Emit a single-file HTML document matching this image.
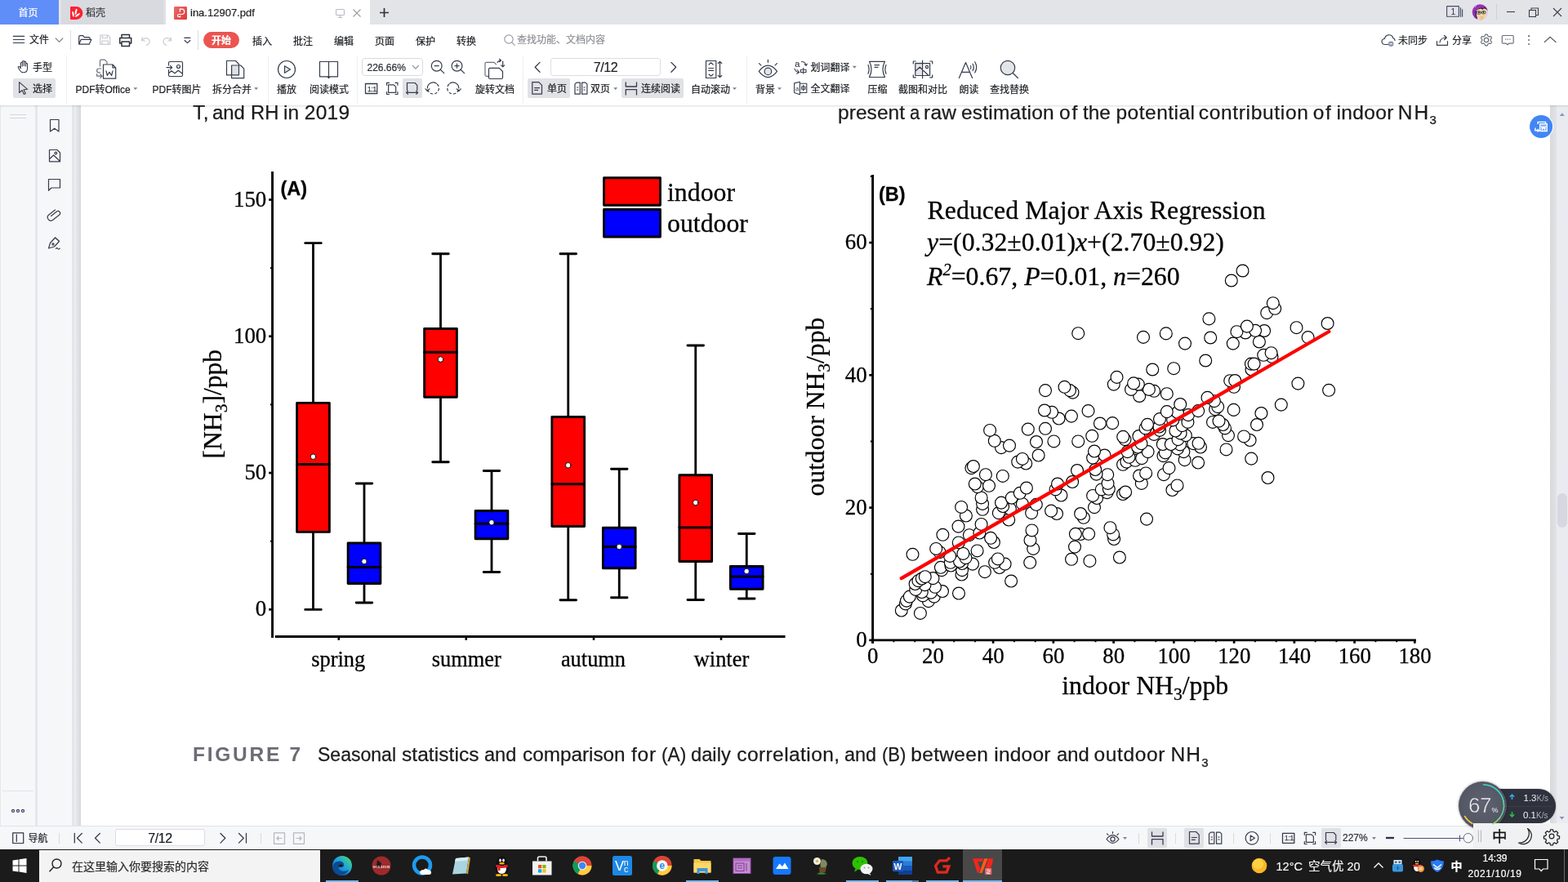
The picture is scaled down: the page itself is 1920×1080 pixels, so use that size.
<!DOCTYPE html>
<html lang="zh-CN">
<head>
<meta charset="utf-8">
<title>ina.12907.pdf</title>
<style>
*{box-sizing:border-box}
html,body{margin:0;padding:0;width:1920px;height:1080px;overflow:hidden;background:#fff}
body{position:relative;font-family:"Liberation Sans","Noto Sans CJK SC",sans-serif;font-size:12px;color:#1a1c21;line-height:1}
.abs{position:absolute}
.t{position:absolute;white-space:nowrap;line-height:16px;height:16px;-webkit-text-stroke:0.2px currentColor}
svg{position:absolute;overflow:visible}
.ic{fill:none;stroke:#363c4c;stroke-width:1.2;stroke-linecap:round;stroke-linejoin:round}
#tabbar{left:0;top:0;width:1920px;height:30px;background:#e3e4e8}
#menubar{left:0;top:30px;width:1920px;height:36px;background:#fff}
#toolbar{left:0;top:66px;width:1920px;height:63px;background:#fff}
#doc{left:0;top:129px;width:1920px;height:882px;background:#fff;overflow:hidden}
#status{left:0;top:1011px;width:1920px;height:29px;background:#f6f7f9;border-top:1px solid #e2e3e8}
#taskbar{left:0;top:1040px;width:1920px;height:40px;background:#1b1b1b}
#chart text{stroke:#000;stroke-width:0.28px}
.sep{position:absolute;width:1px;background:#e4e5e9}
.sel{position:absolute;background:#e0e2e6;border-radius:2px}
.w{position:absolute;white-space:nowrap;font-family:"Liberation Sans",sans-serif;font-size:24.5px;line-height:28px;height:28px;color:#1b1b1d;-webkit-text-stroke:0.25px #1b1b1d}
.lato{font-family:"Liberation Sans",sans-serif;color:#1d1d1f}
</style>
</head>
<body>
<div id="doc" class="abs">
 <div class="abs" style="left:0;top:0;width:43px;height:882px;background:#f6f7f9;border-left:1px solid #e6e7eb"></div>
 <div class="abs" style="left:43px;top:0;width:3px;height:882px;background:#e6e7ec"></div>
 <div class="abs" style="left:46px;top:0;width:42px;height:882px;background:#f6f7f9"></div>
 <div class="abs" style="left:88px;top:0;width:3px;height:882px;background:#e5e6ea"></div>
 <div class="abs" style="left:91px;top:0;width:8px;height:882px;background:linear-gradient(90deg,#eeeff1,#e2e3e6 50%,#d6d8db)"></div>
 <div class="abs" style="left:1898px;top:0;width:8px;height:882px;background:linear-gradient(90deg,#d8d9db,#e2e3e6)"></div>
 <div class="abs" style="left:1906px;top:0;width:14px;height:882px;background:#eaebf0"></div>
 <div class="abs" style="left:1907px;top:475px;width:12px;height:42px;border-radius:6px;background:#d5d8e0"></div>
 <div class="abs" style="left:3px;top:838.500px;width:38px;height:1px;background:#e3e4e8"></div>
 <div class="abs" style="left:12px;top:11px;width:20px;height:1px;background:#d3d5da"></div>
 <div class="abs" style="left:12px;top:14.500px;width:20px;height:1px;background:#d3d5da"></div>
</div>
<svg id="chart" width="1920" height="1080" viewBox="0 0 1920 1080" style="position:absolute;left:0;top:0" font-family="'Liberation Serif',serif" fill="#000">
<g stroke="#000" stroke-width="2.9" fill="none" stroke-linecap="butt">
<path d="M333.55 210V780.9"/>
<path d="M336.8 779.5H961.5"/>
<path d="M329.2 244.55H333" stroke-width="2.7"/>
<path d="M329.2 411.8H333" stroke-width="2.7"/>
<path d="M329.2 579.05H333" stroke-width="2.7"/>
<path d="M329.2 746.3H333" stroke-width="2.7"/>
<path d="M330.9 328.2H333" stroke-width="2"/>
<path d="M330.9 495.4H333" stroke-width="2"/>
<path d="M330.9 662.7H333" stroke-width="2"/>
<path d="M414.8 780V783.8" stroke-width="2.6"/>
<path d="M570.75 780V783.8" stroke-width="2.6"/>
<path d="M727 780V783.8" stroke-width="2.6"/>
<path d="M883 780V783.8" stroke-width="2.6"/>
</g>
<g stroke="#000" stroke-width="2.8" stroke-linecap="round">
<path d="M383.5 297.7V746.4M373.7 297.7H393.3M373.7 746.4H393.3" fill="none"/>
<rect x="363.6" y="493.4" width="39.8" height="158.00" fill="#f00" stroke-linejoin="round"/>
<path d="M363.6 568.5H403.4"/>
<circle cx="383.5" cy="559.2" r="3.25" fill="#fff" stroke-width="0.9"/>
<path d="M446 592V738M436.2 592H455.8M436.2 738H455.8" fill="none"/>
<rect x="426.1" y="665" width="39.8" height="49.50" fill="#00f" stroke-linejoin="round"/>
<path d="M426.1 694.5H465.9"/>
<circle cx="446" cy="687.5" r="3.25" fill="#fff" stroke-width="0.9"/>
<path d="M539.5 310.75V565.75M529.7 310.75H549.3M529.7 565.75H549.3" fill="none"/>
<rect x="519.6" y="402.5" width="39.8" height="83.75" fill="#f00" stroke-linejoin="round"/>
<path d="M519.6 431.25H559.4"/>
<circle cx="539.5" cy="440" r="3.25" fill="#fff" stroke-width="0.9"/>
<path d="M602 576.5V700.5M592.2 576.5H611.8M592.2 700.5H611.8" fill="none"/>
<rect x="582.1" y="625.5" width="39.8" height="34.25" fill="#00f" stroke-linejoin="round"/>
<path d="M582.1 641.25H621.9"/>
<circle cx="602" cy="639.75" r="3.25" fill="#fff" stroke-width="0.9"/>
<path d="M695.75 310.75V734.75M685.95 310.75H705.55M685.95 734.75H705.55" fill="none"/>
<rect x="675.85" y="510.5" width="39.8" height="134.00" fill="#f00" stroke-linejoin="round"/>
<path d="M675.85 592.75H715.65"/>
<circle cx="695.75" cy="569.75" r="3.25" fill="#fff" stroke-width="0.9"/>
<path d="M758.25 574.25V731.75M748.45 574.25H768.05M748.45 731.75H768.05" fill="none"/>
<rect x="738.35" y="646.25" width="39.8" height="49.50" fill="#00f" stroke-linejoin="round"/>
<path d="M738.35 669.5H778.15"/>
<circle cx="758.25" cy="669.5" r="3.25" fill="#fff" stroke-width="0.9"/>
<path d="M851.75 423V734.5M841.95 423H861.55M841.95 734.5H861.55" fill="none"/>
<rect x="831.85" y="581.75" width="39.8" height="105.75" fill="#f00" stroke-linejoin="round"/>
<path d="M831.85 646H871.65"/>
<circle cx="851.75" cy="615.5" r="3.25" fill="#fff" stroke-width="0.9"/>
<path d="M914.25 653.5V733M904.45 653.5H924.05M904.45 733H924.05" fill="none"/>
<rect x="894.35" y="693.5" width="39.8" height="27.75" fill="#00f" stroke-linejoin="round"/>
<path d="M894.35 706H934.15"/>
<circle cx="914.25" cy="699.5" r="3.25" fill="#fff" stroke-width="0.9"/>
<rect x="739.5" y="217.75" width="69" height="33.5" fill="#f00" stroke-linejoin="round"/>
<rect x="739.5" y="256.5" width="69" height="33.5" fill="#00f" stroke-linejoin="round"/>
</g>
<g font-size="26.9px" text-anchor="end">
<text x="326.3" y="252.55">150</text>
<text x="326.3" y="419.8">100</text>
<text x="326.3" y="587.05">50</text>
<text x="326.3" y="754.3">0</text>
</g>
<g font-size="26.4px" text-anchor="middle">
<text x="414.2" y="816.3">spring</text>
<text x="571.2" y="816.3">summer</text>
<text x="726.5" y="816.3">autumn</text>
<text x="883.5" y="816.3">winter</text>
</g>
<text x="817" y="245.5" font-size="31.8px">indoor</text>
<text x="817" y="283.75" font-size="31.8px">outdoor</text>
<text x="343.5" y="238.8" font-family="'Liberation Sans',sans-serif" font-weight="bold" font-size="23.5px">(A)</text>
<text transform="translate(270.5 561.5) rotate(-90)" font-size="31.6px">[NH<tspan font-size="21.5px" dy="7.3">3</tspan><tspan dy="-7.3">]/ppb</tspan></text>
<g stroke="#000" stroke-width="2.9" fill="none">
<path d="M1068.6 214V787.8"/>
<path d="M1068 783.9H1733.9"/>
<path d="M1064.3 297.1H1068" stroke-width="2.7"/>
<path d="M1064.3 459.3H1068" stroke-width="2.7"/>
<path d="M1064.3 621.6H1068" stroke-width="2.7"/>
<path d="M1064.3 783.9H1068" stroke-width="2.7"/>
<path d="M1065.8 215.9H1068" stroke-width="2"/>
<path d="M1065.8 378.2H1068" stroke-width="2"/>
<path d="M1065.8 540.5H1068" stroke-width="2"/>
<path d="M1065.8 702.8H1068" stroke-width="2"/>
<path d="M1068.60 783V787.8" stroke-width="2.7"/>
<path d="M1094.40 783V786.2M1120.20 783V786.2" stroke-width="2"/>
<path d="M1142.35 783V787.8" stroke-width="2.7"/>
<path d="M1168.15 783V786.2M1193.95 783V786.2" stroke-width="2"/>
<path d="M1216.10 783V787.8" stroke-width="2.7"/>
<path d="M1241.90 783V786.2M1267.70 783V786.2" stroke-width="2"/>
<path d="M1289.85 783V787.8" stroke-width="2.7"/>
<path d="M1315.65 783V786.2M1341.45 783V786.2" stroke-width="2"/>
<path d="M1363.60 783V787.8" stroke-width="2.7"/>
<path d="M1389.40 783V786.2M1415.20 783V786.2" stroke-width="2"/>
<path d="M1437.35 783V787.8" stroke-width="2.7"/>
<path d="M1463.15 783V786.2M1488.95 783V786.2" stroke-width="2"/>
<path d="M1511.10 783V787.8" stroke-width="2.7"/>
<path d="M1536.90 783V786.2M1562.70 783V786.2" stroke-width="2"/>
<path d="M1584.85 783V787.8" stroke-width="2.7"/>
<path d="M1610.65 783V786.2M1636.45 783V786.2" stroke-width="2"/>
<path d="M1658.60 783V787.8" stroke-width="2.7"/>
<path d="M1684.40 783V786.2M1710.20 783V786.2" stroke-width="2"/>
<path d="M1732.35 783V787.8" stroke-width="2.7"/>
</g>
<g font-size="26.9px" text-anchor="end">
<text x="1061.6" y="305.40">60</text>
<text x="1061.6" y="467.60">40</text>
<text x="1061.6" y="629.90">20</text>
<text x="1061.6" y="792.20">0</text>
</g>
<g font-size="26.9px" text-anchor="middle">
<text x="1068.80" y="812.1">0</text>
<text x="1142.55" y="812.1">20</text>
<text x="1216.30" y="812.1">40</text>
<text x="1290.05" y="812.1">60</text>
<text x="1363.80" y="812.1">80</text>
<text x="1437.55" y="812.1">100</text>
<text x="1511.30" y="812.1">120</text>
<text x="1585.05" y="812.1">140</text>
<text x="1658.80" y="812.1">160</text>
<text x="1732.55" y="812.1">180</text>
</g>
<text x="1300.3" y="849.6" font-size="31.75px">indoor NH<tspan font-size="21.5px" dy="7.3">3</tspan><tspan dy="-7.3">/ppb</tspan></text>
<text transform="translate(1008.8 607.5) rotate(-90)" font-size="31.6px">outdoor NH<tspan font-size="21.5px" dy="7.3">3</tspan><tspan dy="-7.3">/ppb</tspan></text>
<text x="1076" y="246" font-family="'Liberation Sans',sans-serif" font-weight="bold" font-size="23.5px">(B)</text>
<g font-size="31.8px">
<text x="1135.5" y="268" letter-spacing="0.06">Reduced Major Axis Regression</text>
<text x="1135" y="307"><tspan font-style="italic">y</tspan>=(0.32±0.01)<tspan font-style="italic">x</tspan>+(2.70±0.92)</text>
<text x="1135" y="348.8"><tspan font-style="italic">R</tspan><tspan font-style="italic" font-size="20.5px" dy="-12">2</tspan><tspan dy="12">=0.67, </tspan><tspan font-style="italic">P</tspan>=0.01, <tspan font-style="italic">n</tspan>=260</text>
</g>
<g fill="#fff" stroke="#000" stroke-width="1.15">
<circle cx="1126.9" cy="750.9" r="7.45"/>
<circle cx="1103.8" cy="747.5" r="7.45"/>
<circle cx="1108.8" cy="739.4" r="7.45"/>
<circle cx="1136.9" cy="736.2" r="7.45"/>
<circle cx="1110.0" cy="735.6" r="7.45"/>
<circle cx="1113.8" cy="730.6" r="7.45"/>
<circle cx="1143.8" cy="730.6" r="7.45"/>
<circle cx="1130.0" cy="729.4" r="7.45"/>
<circle cx="1174.0" cy="726.5" r="7.45"/>
<circle cx="1140.0" cy="725.6" r="7.45"/>
<circle cx="1128.8" cy="725.0" r="7.45"/>
<circle cx="1154.0" cy="724.0" r="7.45"/>
<circle cx="1121.2" cy="721.9" r="7.45"/>
<circle cx="1145.0" cy="718.8" r="7.45"/>
<circle cx="1132.5" cy="716.2" r="7.45"/>
<circle cx="1120.6" cy="715.0" r="7.45"/>
<circle cx="1238.1" cy="711.5" r="7.45"/>
<circle cx="1124.4" cy="711.2" r="7.45"/>
<circle cx="1128.8" cy="708.5" r="7.45"/>
<circle cx="1142.5" cy="708.1" r="7.45"/>
<circle cx="1132.8" cy="706.2" r="7.45"/>
<circle cx="1177.5" cy="703.5" r="7.45"/>
<circle cx="1205.9" cy="700.2" r="7.45"/>
<circle cx="1153.1" cy="698.1" r="7.45"/>
<circle cx="1178.1" cy="698.1" r="7.45"/>
<circle cx="1223.8" cy="695.0" r="7.45"/>
<circle cx="1151.9" cy="694.8" r="7.45"/>
<circle cx="1164.4" cy="692.5" r="7.45"/>
<circle cx="1191.0" cy="690.6" r="7.45"/>
<circle cx="1230.6" cy="690.6" r="7.45"/>
<circle cx="1178.1" cy="690.0" r="7.45"/>
<circle cx="1163.8" cy="688.8" r="7.45"/>
<circle cx="1218.1" cy="688.8" r="7.45"/>
<circle cx="1261.2" cy="688.8" r="7.45"/>
<circle cx="1175.0" cy="687.5" r="7.45"/>
<circle cx="1334.4" cy="686.9" r="7.45"/>
<circle cx="1312.0" cy="684.8" r="7.45"/>
<circle cx="1221.9" cy="684.4" r="7.45"/>
<circle cx="1182.5" cy="683.1" r="7.45"/>
<circle cx="1370.9" cy="682.5" r="7.45"/>
<circle cx="1163.1" cy="680.9" r="7.45"/>
<circle cx="1117.5" cy="678.8" r="7.45"/>
<circle cx="1179.4" cy="677.9" r="7.45"/>
<circle cx="1150.6" cy="676.2" r="7.45"/>
<circle cx="1196.6" cy="674.4" r="7.45"/>
<circle cx="1146.2" cy="671.9" r="7.45"/>
<circle cx="1265.2" cy="671.9" r="7.45"/>
<circle cx="1316.0" cy="669.6" r="7.45"/>
<circle cx="1173.8" cy="664.4" r="7.45"/>
<circle cx="1216.9" cy="664.0" r="7.45"/>
<circle cx="1261.5" cy="661.5" r="7.45"/>
<circle cx="1364.1" cy="660.0" r="7.45"/>
<circle cx="1213.1" cy="658.8" r="7.45"/>
<circle cx="1186.9" cy="655.2" r="7.45"/>
<circle cx="1154.4" cy="654.8" r="7.45"/>
<circle cx="1363.1" cy="654.4" r="7.45"/>
<circle cx="1323.1" cy="654.0" r="7.45"/>
<circle cx="1316.9" cy="653.8" r="7.45"/>
<circle cx="1333.1" cy="653.8" r="7.45"/>
<circle cx="1199.4" cy="652.5" r="7.45"/>
<circle cx="1263.5" cy="649.4" r="7.45"/>
<circle cx="1359.4" cy="646.2" r="7.45"/>
<circle cx="1173.5" cy="644.6" r="7.45"/>
<circle cx="1201.6" cy="641.9" r="7.45"/>
<circle cx="1235.2" cy="636.5" r="7.45"/>
<circle cx="1404.0" cy="635.6" r="7.45"/>
<circle cx="1326.9" cy="633.8" r="7.45"/>
<circle cx="1182.9" cy="631.5" r="7.45"/>
<circle cx="1294.0" cy="629.0" r="7.45"/>
<circle cx="1323.1" cy="629.0" r="7.45"/>
<circle cx="1222.8" cy="628.1" r="7.45"/>
<circle cx="1263.1" cy="628.1" r="7.45"/>
<circle cx="1287.1" cy="625.6" r="7.45"/>
<circle cx="1203.1" cy="623.8" r="7.45"/>
<circle cx="1236.9" cy="623.1" r="7.45"/>
<circle cx="1340.0" cy="621.2" r="7.45"/>
<circle cx="1177.1" cy="620.9" r="7.45"/>
<circle cx="1228.1" cy="620.0" r="7.45"/>
<circle cx="1268.8" cy="617.8" r="7.45"/>
<circle cx="1203.1" cy="616.9" r="7.45"/>
<circle cx="1251.9" cy="616.9" r="7.45"/>
<circle cx="1226.0" cy="615.6" r="7.45"/>
<circle cx="1343.1" cy="610.0" r="7.45"/>
<circle cx="1238.8" cy="609.6" r="7.45"/>
<circle cx="1201.6" cy="609.4" r="7.45"/>
<circle cx="1338.1" cy="606.9" r="7.45"/>
<circle cx="1299.4" cy="606.5" r="7.45"/>
<circle cx="1375.0" cy="605.0" r="7.45"/>
<circle cx="1248.8" cy="603.8" r="7.45"/>
<circle cx="1355.6" cy="603.1" r="7.45"/>
<circle cx="1378.1" cy="602.5" r="7.45"/>
<circle cx="1435.4" cy="600.0" r="7.45"/>
<circle cx="1292.5" cy="599.4" r="7.45"/>
<circle cx="1348.8" cy="599.4" r="7.45"/>
<circle cx="1357.8" cy="598.8" r="7.45"/>
<circle cx="1256.9" cy="597.5" r="7.45"/>
<circle cx="1196.9" cy="596.2" r="7.45"/>
<circle cx="1211.0" cy="594.8" r="7.45"/>
<circle cx="1441.5" cy="594.4" r="7.45"/>
<circle cx="1193.8" cy="592.5" r="7.45"/>
<circle cx="1295.0" cy="592.5" r="7.45"/>
<circle cx="1356.5" cy="591.9" r="7.45"/>
<circle cx="1397.8" cy="591.9" r="7.45"/>
<circle cx="1313.1" cy="590.0" r="7.45"/>
<circle cx="1552.5" cy="585.0" r="7.45"/>
<circle cx="1227.8" cy="582.9" r="7.45"/>
<circle cx="1395.0" cy="582.5" r="7.45"/>
<circle cx="1206.9" cy="581.2" r="7.45"/>
<circle cx="1356.2" cy="581.2" r="7.45"/>
<circle cx="1425.0" cy="581.2" r="7.45"/>
<circle cx="1342.5" cy="580.6" r="7.45"/>
<circle cx="1403.1" cy="579.4" r="7.45"/>
<circle cx="1319.0" cy="576.0" r="7.45"/>
<circle cx="1341.2" cy="575.0" r="7.45"/>
<circle cx="1189.4" cy="573.1" r="7.45"/>
<circle cx="1431.5" cy="573.1" r="7.45"/>
<circle cx="1191.9" cy="571.0" r="7.45"/>
<circle cx="1375.0" cy="568.8" r="7.45"/>
<circle cx="1256.2" cy="567.5" r="7.45"/>
<circle cx="1467.1" cy="566.5" r="7.45"/>
<circle cx="1246.2" cy="565.6" r="7.45"/>
<circle cx="1379.4" cy="565.6" r="7.45"/>
<circle cx="1390.0" cy="563.8" r="7.45"/>
<circle cx="1450.6" cy="563.1" r="7.45"/>
<circle cx="1251.9" cy="561.9" r="7.45"/>
<circle cx="1532.2" cy="561.6" r="7.45"/>
<circle cx="1398.1" cy="561.2" r="7.45"/>
<circle cx="1338.1" cy="560.6" r="7.45"/>
<circle cx="1382.5" cy="559.8" r="7.45"/>
<circle cx="1424.4" cy="558.1" r="7.45"/>
<circle cx="1271.6" cy="557.5" r="7.45"/>
<circle cx="1352.5" cy="557.5" r="7.45"/>
<circle cx="1426.9" cy="554.4" r="7.45"/>
<circle cx="1380.6" cy="553.1" r="7.45"/>
<circle cx="1405.6" cy="553.1" r="7.45"/>
<circle cx="1449.4" cy="553.1" r="7.45"/>
<circle cx="1340.0" cy="552.5" r="7.45"/>
<circle cx="1501.5" cy="550.4" r="7.45"/>
<circle cx="1441.9" cy="549.4" r="7.45"/>
<circle cx="1226.0" cy="548.1" r="7.45"/>
<circle cx="1393.1" cy="547.5" r="7.45"/>
<circle cx="1470.0" cy="547.5" r="7.45"/>
<circle cx="1236.0" cy="545.6" r="7.45"/>
<circle cx="1445.0" cy="544.4" r="7.45"/>
<circle cx="1423.8" cy="544.0" r="7.45"/>
<circle cx="1433.8" cy="544.0" r="7.45"/>
<circle cx="1397.5" cy="543.1" r="7.45"/>
<circle cx="1461.2" cy="543.1" r="7.45"/>
<circle cx="1467.5" cy="542.8" r="7.45"/>
<circle cx="1269.0" cy="541.0" r="7.45"/>
<circle cx="1290.4" cy="540.4" r="7.45"/>
<circle cx="1320.2" cy="540.4" r="7.45"/>
<circle cx="1217.8" cy="539.8" r="7.45"/>
<circle cx="1530.6" cy="539.0" r="7.45"/>
<circle cx="1377.5" cy="538.1" r="7.45"/>
<circle cx="1442.5" cy="538.1" r="7.45"/>
<circle cx="1375.2" cy="534.8" r="7.45"/>
<circle cx="1523.1" cy="534.4" r="7.45"/>
<circle cx="1394.4" cy="534.0" r="7.45"/>
<circle cx="1337.2" cy="533.8" r="7.45"/>
<circle cx="1451.9" cy="533.1" r="7.45"/>
<circle cx="1504.0" cy="533.1" r="7.45"/>
<circle cx="1413.1" cy="531.9" r="7.45"/>
<circle cx="1445.6" cy="530.6" r="7.45"/>
<circle cx="1439.4" cy="527.5" r="7.45"/>
<circle cx="1212.1" cy="526.9" r="7.45"/>
<circle cx="1420.0" cy="526.9" r="7.45"/>
<circle cx="1258.8" cy="525.6" r="7.45"/>
<circle cx="1280.0" cy="524.8" r="7.45"/>
<circle cx="1402.5" cy="524.4" r="7.45"/>
<circle cx="1500.0" cy="524.4" r="7.45"/>
<circle cx="1419.4" cy="522.5" r="7.45"/>
<circle cx="1447.5" cy="521.2" r="7.45"/>
<circle cx="1497.5" cy="520.0" r="7.45"/>
<circle cx="1539.0" cy="520.0" r="7.45"/>
<circle cx="1405.0" cy="519.8" r="7.45"/>
<circle cx="1346.9" cy="518.5" r="7.45"/>
<circle cx="1362.2" cy="518.1" r="7.45"/>
<circle cx="1454.4" cy="516.9" r="7.45"/>
<circle cx="1485.0" cy="516.9" r="7.45"/>
<circle cx="1492.5" cy="515.6" r="7.45"/>
<circle cx="1436.2" cy="514.4" r="7.45"/>
<circle cx="1420.0" cy="513.1" r="7.45"/>
<circle cx="1296.5" cy="512.5" r="7.45"/>
<circle cx="1311.9" cy="509.6" r="7.45"/>
<circle cx="1455.0" cy="508.1" r="7.45"/>
<circle cx="1544.4" cy="506.0" r="7.45"/>
<circle cx="1441.9" cy="505.0" r="7.45"/>
<circle cx="1288.1" cy="504.8" r="7.45"/>
<circle cx="1428.8" cy="504.1" r="7.45"/>
<circle cx="1332.5" cy="503.1" r="7.45"/>
<circle cx="1467.2" cy="503.1" r="7.45"/>
<circle cx="1279.0" cy="502.5" r="7.45"/>
<circle cx="1510.6" cy="501.9" r="7.45"/>
<circle cx="1488.1" cy="501.2" r="7.45"/>
<circle cx="1491.2" cy="498.1" r="7.45"/>
<circle cx="1568.8" cy="495.6" r="7.45"/>
<circle cx="1445.2" cy="495.0" r="7.45"/>
<circle cx="1486.9" cy="491.2" r="7.45"/>
<circle cx="1478.5" cy="486.9" r="7.45"/>
<circle cx="1395.2" cy="485.0" r="7.45"/>
<circle cx="1428.8" cy="482.2" r="7.45"/>
<circle cx="1313.5" cy="480.6" r="7.45"/>
<circle cx="1413.1" cy="478.8" r="7.45"/>
<circle cx="1280.0" cy="478.1" r="7.45"/>
<circle cx="1310.0" cy="478.1" r="7.45"/>
<circle cx="1627.1" cy="477.8" r="7.45"/>
<circle cx="1385.0" cy="476.9" r="7.45"/>
<circle cx="1406.9" cy="476.9" r="7.45"/>
<circle cx="1303.5" cy="473.8" r="7.45"/>
<circle cx="1511.0" cy="473.8" r="7.45"/>
<circle cx="1363.8" cy="470.6" r="7.45"/>
<circle cx="1393.8" cy="470.6" r="7.45"/>
<circle cx="1589.4" cy="469.6" r="7.45"/>
<circle cx="1388.1" cy="469.4" r="7.45"/>
<circle cx="1506.2" cy="466.2" r="7.45"/>
<circle cx="1512.2" cy="466.0" r="7.45"/>
<circle cx="1367.5" cy="461.9" r="7.45"/>
<circle cx="1411.2" cy="452.5" r="7.45"/>
<circle cx="1532.5" cy="452.5" r="7.45"/>
<circle cx="1437.2" cy="451.2" r="7.45"/>
<circle cx="1531.9" cy="445.6" r="7.45"/>
<circle cx="1535.6" cy="445.6" r="7.45"/>
<circle cx="1476.2" cy="441.5" r="7.45"/>
<circle cx="1557.5" cy="436.9" r="7.45"/>
<circle cx="1547.2" cy="434.8" r="7.45"/>
<circle cx="1556.6" cy="432.2" r="7.45"/>
<circle cx="1451.0" cy="420.6" r="7.45"/>
<circle cx="1509.8" cy="420.6" r="7.45"/>
<circle cx="1541.9" cy="418.5" r="7.45"/>
<circle cx="1482.2" cy="413.5" r="7.45"/>
<circle cx="1601.6" cy="413.1" r="7.45"/>
<circle cx="1400.0" cy="412.9" r="7.45"/>
<circle cx="1427.8" cy="408.4" r="7.45"/>
<circle cx="1320.2" cy="408.2" r="7.45"/>
<circle cx="1525.0" cy="407.5" r="7.45"/>
<circle cx="1514.4" cy="406.2" r="7.45"/>
<circle cx="1548.1" cy="405.0" r="7.45"/>
<circle cx="1537.1" cy="404.8" r="7.45"/>
<circle cx="1587.5" cy="401.2" r="7.45"/>
<circle cx="1526.9" cy="399.6" r="7.45"/>
<circle cx="1625.6" cy="396.0" r="7.45"/>
<circle cx="1480.4" cy="390.4" r="7.45"/>
<circle cx="1551.2" cy="383.1" r="7.45"/>
<circle cx="1561.2" cy="377.8" r="7.45"/>
<circle cx="1558.8" cy="371.2" r="7.45"/>
<circle cx="1507.8" cy="343.5" r="7.45"/>
<circle cx="1521.5" cy="331.5" r="7.45"/>
</g>
<path d="M1103.8 708.1L1627.3 406" stroke="#f00" stroke-width="4.3" stroke-linecap="round" fill="none"/>
</svg>
<div id="doctext">
<span class="w" style="left:236.25px;top:123.50px;letter-spacing:0.250px">T,</span>
<span class="w" style="left:260.28px;top:123.50px;transform:scaleX(0.9745);transform-origin:0 0">and</span>
<span class="w" style="left:306.81px;top:123.50px;transform:scaleX(0.9702);transform-origin:0 0">RH</span>
<span class="w" style="left:347.00px;top:123.50px;letter-spacing:0.057px">in</span>
<span class="w" style="left:372.75px;top:123.50px;letter-spacing:0.291px">2019</span>
<span class="w" style="left:1026.00px;top:123.50px;letter-spacing:0.056px">present</span>
<span class="w" style="left:1114.10px;top:123.50px;transform:scaleX(0.9000);transform-origin:0 0">a</span>
<span class="w" style="left:1131.00px;top:123.50px;letter-spacing:0.233px">raw</span>
<span class="w" style="left:1177.00px;top:123.50px;letter-spacing:0.218px">estimation</span>
<span class="w" style="left:1297.00px;top:123.50px;letter-spacing:1.874px">of</span>
<span class="w" style="left:1326.25px;top:123.50px;transform:scaleX(0.9945);transform-origin:0 0">the</span>
<span class="w" style="left:1366.50px;top:123.50px;letter-spacing:0.489px">potential</span>
<span class="w" style="left:1467.75px;top:123.50px;letter-spacing:0.678px">contribution</span>
<span class="w" style="left:1607.75px;top:123.50px;letter-spacing:1.624px">of</span>
<span class="w" style="left:1636.50px;top:123.50px;letter-spacing:0.361px">indoor</span>
<span class="w" style="left:1711.75px;top:123.50px;letter-spacing:2.057px">NH</span>
<span class="w" style="left:389.06px;top:910.00px;transform:scaleX(0.9401);transform-origin:0 0">Seasonal</span>
<span class="w" style="left:492.00px;top:910.00px;letter-spacing:0.063px">statistics</span>
<span class="w" style="left:593.29px;top:910.00px;transform:scaleX(0.9617);transform-origin:0 0">and</span>
<span class="w" style="left:639.51px;top:910.00px;transform:scaleX(0.9919);transform-origin:0 0">comparison</span>
<span class="w" style="left:773.00px;top:910.00px;letter-spacing:0.784px">for</span>
<span class="w" style="left:810.32px;top:910.00px;transform:scaleX(0.9262);transform-origin:0 0">(A)</span>
<span class="w" style="left:846.03px;top:910.00px;transform:scaleX(0.9673);transform-origin:0 0">daily</span>
<span class="w" style="left:902.25px;top:910.00px;letter-spacing:0.419px">correlation,</span>
<span class="w" style="left:1033.54px;top:910.00px;transform:scaleX(0.9554);transform-origin:0 0">and</span>
<span class="w" style="left:1079.85px;top:910.00px;transform:scaleX(0.9016);transform-origin:0 0">(B)</span>
<span class="w" style="left:1115.25px;top:910.00px;letter-spacing:0.333px">between</span>
<span class="w" style="left:1217.25px;top:910.00px;letter-spacing:0.211px">indoor</span>
<span class="w" style="left:1293.53px;top:910.00px;transform:scaleX(0.9681);transform-origin:0 0">and</span>
<span class="w" style="left:1339.50px;top:910.00px;letter-spacing:0.636px">outdoor</span>
<span class="w" style="left:1433.50px;top:910.00px;letter-spacing:1.057px">NH</span>
<span class="w" style="left:236.00px;top:910.00px;letter-spacing:2.734px;font-weight:bold;color:#6c6c74;-webkit-text-stroke:0">FIGURE 7</span>
<span class="w" style="left:1750.50px;top:138.20px;font-size:15px;line-height:18px;height:18px">3</span>
<span class="w" style="left:1471.25px;top:924.70px;font-size:15px;line-height:18px;height:18px">3</span>
</div>

<svg id="docicons" width="1920" height="900" viewBox="0 129 1920 900" style="left:0;top:129px">
<g class="ic" stroke-width="1.150">
<path d="M61.500 146.500h10.500v14.500l-5.250-3.800l-5.250 3.800z"/>
<path d="M60.500 183.500h9.500l3.500 3.500v10.800h-13zM60.700 194.500l5-4.500l7.500 7.200"/><circle cx="68.300" cy="187.500" r="1.300"/>
<path d="M59.500 219.500h14v10.500h-10.500l-3.500 3.300z"/>
<path d="M62.500 264.500l7-5.500a2.600 2.600 0 0 1 3.300 4l-8.300 6.500a4 4 0 0 1-5-6.200l8-6.300"/>
<path d="M59.500 304l2-6.500l6-6.500l5 4.500l-6 6.500zM65.500 293.300l2.200-2.300l4.800 4.300l-2.200 2.500M68.500 304.500q1.200-1.700 2.300 0q1.200 1.500 2.400-0.300"/><circle cx="65" cy="299" r="1.100"/>
</g>
<circle cx="1887.100" cy="155" r="15" fill="#fff"/>
<circle cx="1887.100" cy="155" r="14" fill="#4285f4"/>
<g fill="none" stroke="#fff" stroke-width="1.400"><path d="M1883.200 152v-2.600h9.300v1.800"/><path d="M1885.700 151.800h8.500v8.700h-8.500z" fill="#fff" fill-opacity="0.250"/><path d="M1887.600 154.300l1 3.800l1.400-2.800l1.400 2.800l1-3.800"/><path d="M1879.900 156.500v3.200h4.200M1882.600 157.900l1.900 1.800l-1.900 1.800"/></g>
<path d="M1909.800 141.900h6l-3-3.600z" fill="#8a92b5"/>
</svg>
<div id="tabbar" class="abs"></div>
<div id="menubar" class="abs"></div>
<div id="toolbar" class="abs"></div>
<div class="abs" style="left:0;top:129px;width:1920px;height:3px;background:linear-gradient(rgba(0,0,0,.13),rgba(0,0,0,.04) 50%,rgba(0,0,0,0))"></div>
<!-- tab bar -->
<div class="abs" style="left:0;top:0;width:72px;height:30px;background:#608ef9"></div>
<div class="t" style="left:22.5px;top:8.2px;color:#fff">首页</div>
<div class="abs" style="left:75px;top:0;width:125px;height:30px;background:#d9dadf"></div>
<div class="abs" style="left:200px;top:0;width:3px;height:30px;background:#dfe0e4"></div>
<div class="t" style="left:105px;top:8.2px;color:#33363d">稻壳</div>
<div class="abs" style="left:203px;top:0;width:250px;height:30px;background:#fff"></div>
<div class="t" style="left:233px;top:7.8px;font-size:13px;color:#1c1e22">ina.12907.pdf</div>
<!-- menu row text -->
<div class="t" style="left:36px;top:41.1px">文件</div>
<div class="abs" style="left:249px;top:39px;width:44px;height:20px;border-radius:10px;background:#eb5451"></div>
<div class="t" style="left:259px;top:41.7px;color:#fff;font-weight:bold">开始</div>
<div class="t" style="left:309px;top:42.500px">插入</div>
<div class="t" style="left:359px;top:42.500px">批注</div>
<div class="t" style="left:409px;top:42.500px">编辑</div>
<div class="t" style="left:459px;top:42.500px">页面</div>
<div class="t" style="left:509px;top:42.500px">保护</div>
<div class="t" style="left:559px;top:42.500px">转换</div>
<div class="t" style="left:633px;top:40.5px;color:#8e9096">查找功能、文档内容</div>
<div class="t" style="left:1712px;top:42.100px">未同步</div>
<div class="t" style="left:1778px;top:42.100px">分享</div>
<div class="sep" style="left:86px;top:37px;height:24px;background:#dcdde1"></div>
<div class="sep" style="left:242px;top:37px;height:24px;background:#dcdde1"></div>
<!-- toolbar -->
<div class="sel" style="left:16px;top:96px;width:52px;height:24px"></div>
<div class="sel" style="left:493px;top:96px;width:24px;height:24px"></div>
<div class="sel" style="left:646px;top:96px;width:52px;height:24px"></div>
<div class="sel" style="left:761px;top:96px;width:76px;height:24px"></div>
<div class="sep" style="left:81px;top:68px;height:59px;background:#eeeff1"></div>
<div class="sep" style="left:328px;top:68px;height:59px;background:#eeeff1"></div>
<div class="sep" style="left:437px;top:68px;height:59px;background:#eeeff1"></div>
<div class="sep" style="left:640px;top:68px;height:59px;background:#eeeff1"></div>
<div class="sep" style="left:914px;top:68px;height:59px;background:#eeeff1"></div>
<div class="t" style="left:40px;top:75px">手型</div>
<div class="t" style="left:40px;top:100.8px">选择</div>
<div class="t" style="left:92.5px;top:102.200px">PDF转Office</div>
<div class="t" style="left:186.5px;top:102.200px">PDF转图片</div>
<div class="t" style="left:260px;top:102.200px">拆分合并</div>
<div class="t" style="left:339px;top:102.200px">播放</div>
<div class="t" style="left:379px;top:102.200px">阅读模式</div>
<div class="abs" style="left:443px;top:71px;width:75px;height:22px;border:1px solid #d9dade;border-radius:4px;background:#fff"></div>
<div class="t" style="left:449.5px;top:74.5px;color:#2a2d34">226.66%</div>
<div class="t" style="left:582px;top:102.200px">旋转文档</div>
<div class="abs" style="left:674px;top:71px;width:135px;height:22px;border:1px solid #dcdde1;border-radius:3px;background:#fff"></div>
<div class="t" style="left:674px;top:74.500px;width:135px;text-align:center;font-size:16px;letter-spacing:-0.400px">7/12</div>
<div class="t" style="left:670px;top:101.200px">单页</div>
<div class="t" style="left:723px;top:101.200px">双页</div>
<div class="t" style="left:785px;top:101.200px">连续阅读</div>
<div class="t" style="left:846px;top:102.200px">自动滚动</div>
<div class="t" style="left:925px;top:102.200px">背景</div>
<div class="t" style="left:992.500px;top:75px">划词翻译</div>
<div class="t" style="left:992.500px;top:101.200px">全文翻译</div>
<div class="t" style="left:1062.5px;top:102.200px">压缩</div>
<div class="t" style="left:1100px;top:102.200px">截图和对比</div>
<div class="t" style="left:1174.5px;top:102.200px">朗读</div>
<div class="t" style="left:1212px;top:102.200px">查找替换</div>
<svg id="topicons" width="1920" height="130" viewBox="0 0 1920 130" style="left:0;top:0">
<!-- tab icons -->
<defs><linearGradient id="pdfg" x1="0" y1="0" x2="1" y2="1"><stop offset="0" stop-color="#ea6c6c"/><stop offset="1" stop-color="#e03a36"/></linearGradient></defs>
<path d="M86 9.300a1.200 1.200 0 0 1 1.200-1.200h6.300a7.900 7.900 0 0 1 0 15.800h-6.300a1.200 1.200 0 0 1-1.200-1.200z" fill="#fb2230"/>
<g fill="#fff"><ellipse cx="89.500" cy="17.300" rx="1" ry="3.500" transform="rotate(-12 89.500 17.300)"/><ellipse cx="93" cy="14.300" rx="1.150" ry="3.700" transform="rotate(12 93 14.300)"/><ellipse cx="95" cy="18.300" rx="1.050" ry="3.500" transform="rotate(52 95 18.300)"/></g>
<rect x="213" y="8" width="16" height="16" rx="1.200" fill="url(#pdfg)"/>
<path d="M220.400 14.700V11.100h2.200a3.200 3.200 0 0 1 0 6.400h-3.500a1.600 1.600 0 0 0 0 3.200h1.500v-1.700" stroke="#fff" stroke-width="1.200" fill="none"/>
<g stroke="#b9bcc4" stroke-width="1.100" fill="none"><rect x="411.500" y="11.500" width="10" height="7" rx="1"/><path d="M416.500 18.500v3M414 21.500h5"/></g>
<path d="M432.500 11.500l9 9M441.500 11.500l-9 9" stroke="#9a9da6" stroke-width="1.100" fill="none"/>
<path d="M465 15.500h11M470.500 10v11" stroke="#2f333c" stroke-width="1.700" fill="none"/>
<g stroke="#464f6b" stroke-width="1.150" fill="none"><rect x="1771.600" y="7.650" width="14.800" height="12.600" rx="0.300"/><path d="M1788.500 9.200v11.600M1790.600 11.200v9.600"/></g>
<text x="1776.400" y="18.100" font-size="10.500" fill="#2d3350" font-family="'Liberation Sans',sans-serif">1</text>
<clipPath id="avc"><circle cx="1812.300" cy="14.800" r="9.600"/></clipPath>
<g clip-path="url(#avc)">
<rect x="1802" y="4" width="21" height="22" fill="#d3ccf0"/>
<path d="M1807 13q1-5 7-5q6 0 6.500 6l-0.500 6q-1.500 4.500-5.500 5.500q-4.500-0.500-6.500-5z" fill="#f3d2a4"/>
<path d="M1813 22q2 1 4.500-0.500l-1 3q-2 1-4.500 0.500z" fill="#e8bf90"/>
<path d="M1802 22v-12q2-6 10-6q6 0 9 5l1 5q-2-4-5-5l-1.500 1.500l-2-1.500q-3 0.500-5 3.500l-1.500 4.500l1 4.500l1.500 3q-4 0-7.500-2z" fill="#9530b8"/>
<path d="M1805 8q3-3.500 7-3.500q-4 1.500-5.500 5z" fill="#d070ea"/>
<path d="M1808.500 12.500q2-3 5.500-3.500l1.500 1.300l2-1.500q2.500 1 4 4q-2-2.500-4.500-2.500l-1.500 1.500l-2-1.200q-3 0.500-5 1.900z" fill="#24102c"/>
<path d="M1806.500 13.500l1 6.500l1 2.500" stroke="#3a1a48" stroke-width="1.300" fill="none"/>
<rect x="1808.300" y="13.900" width="4.600" height="3.300" rx="1" fill="#efe9dc" stroke="#3a3a3a" stroke-width="0.900"/>
<rect x="1814.600" y="13.600" width="4.300" height="3.200" rx="1" fill="#efe9dc" stroke="#3a3a3a" stroke-width="0.900"/>
<path d="M1812.900 15.200h1.700M1808.300 15l-2-0.500" stroke="#3a3a3a" stroke-width="0.900"/>
<circle cx="1810.800" cy="15.300" r="1" fill="#20141a"/><circle cx="1816.500" cy="15" r="0.900" fill="#20141a"/>
<path d="M1813.500 20.800q1 0.600 2 0" stroke="#c9786a" stroke-width="0.900" fill="none"/>
</g>
<path d="M1832.500 5v19" stroke="#cfd0d5" stroke-width="1"/>
<path d="M1845 14.500h10" stroke="#3b404c" stroke-width="1.100"/>
<g stroke="#3b404c" stroke-width="1.100" fill="none"><rect x="1872.500" y="12.500" width="8" height="8"/><path d="M1875 12.500v-2.500h8.500v8.500h-3"/></g>
<path d="M1902 10l10 10M1912 10l-10 10" stroke="#3b404c" stroke-width="1.100" fill="none"/>
</svg>
<svg id="tbicons" width="1920" height="130" viewBox="0 0 1920 130" style="left:0;top:0">
<g class="ic">
<!-- menu row -->
<path d="M16.300 44.400h13.400M16.300 48.500h13.400M16.300 52.500h13.400" stroke-width="1.100"/>
<path d="M68.200 47l4.300 4.400l4.300-4.400" stroke="#80848e"/>
<path d="M96.700 53.800V45a1.300 1.300 0 0 1 1.300-1.300h3.600l1.600 1.900h5.600a1.300 1.300 0 0 1 1.300 1.300v1.400M96.700 54.200l2.600-5.900h12.600l-2.700 5.900z"/>
<path d="M122.800 43h9.200l2.700 2.700v8.600h-11.900zM125.300 43v3.500h6v-3.500M125 54.300v-4.300h7.500v4.300" stroke="#c8cacf"/>
<path d="M149 46.500v-4h9.500v4M149 53h-2.300v-6.500h14v6.500h-2.200M149 51h9.500v5.500h-9.500z" stroke="#2c3039" stroke-width="1.500"/>
<path d="M174.300 45.800l-0.800 3.900l3.900 0.300M173.800 49.500c2.500-3.500 6.500-3.600 8.500-1.200c2 2.500 0.500 5.500-2.700 7.200" stroke="#c8cacf"/>
<path d="M208.900 45.800l0.800 3.900l-3.900 0.300M209.400 49.500c-2.500-3.500-6.500-3.600-8.500-1.200c-2 2.500-0.500 5.500 2.700 7.200" stroke="#c8cacf"/>
<path d="M225.800 46.300h7.200M226.200 49.500l3.300 3.100l3.300-3.100"/>
<g stroke="#9a9da6"><circle cx="623" cy="48" r="5.200"/><path d="M626.800 51.800l3.400 3.500"/></g>
<path d="M1700 54.500h-4.200a3.600 3.600 0 0 1-0.300-7.200a5.300 5.300 0 0 1 10.300-0.800a3.800 3.800 0 0 1 2.300 3"/>
<path d="M1759.500 50.500v4.800h13v-4.800M1763 52c0.500-4 3.500-6 8-6M1768.500 43.500l2.800 2.500l-2.800 2.700"/>
<path d="M1820.00 42.05L1820.36 42.06L1820.73 42.09L1821.09 42.14L1821.38 42.52L1821.58 43.11L1821.72 43.70L1821.88 44.10L1822.14 44.20L1822.38 44.32L1822.62 44.45L1822.86 44.60L1823.09 44.75L1823.30 44.92L1823.73 44.86L1824.31 44.69L1824.92 44.57L1825.40 44.63L1825.62 44.91L1825.83 45.21L1826.02 45.52L1826.19 45.84L1826.35 46.17L1826.49 46.51L1826.30 46.95L1825.89 47.42L1825.45 47.84L1825.19 48.18L1825.22 48.45L1825.24 48.73L1825.25 49.00L1825.24 49.27L1825.22 49.55L1825.19 49.82L1825.45 50.16L1825.89 50.58L1826.30 51.05L1826.49 51.49L1826.35 51.83L1826.19 52.16L1826.02 52.48L1825.83 52.79L1825.62 53.09L1825.40 53.37L1824.92 53.43L1824.31 53.31L1823.73 53.14L1823.30 53.08L1823.09 53.25L1822.86 53.40L1822.62 53.55L1822.38 53.68L1822.14 53.80L1821.88 53.90L1821.72 54.30L1821.58 54.89L1821.38 55.48L1821.09 55.86L1820.73 55.91L1820.36 55.94L1820.00 55.95L1819.64 55.94L1819.27 55.91L1818.91 55.86L1818.62 55.48L1818.42 54.89L1818.28 54.30L1818.12 53.90L1817.86 53.80L1817.62 53.68L1817.38 53.55L1817.14 53.40L1816.91 53.25L1816.70 53.08L1816.27 53.14L1815.69 53.31L1815.08 53.43L1814.60 53.37L1814.38 53.09L1814.17 52.79L1813.98 52.48L1813.81 52.16L1813.65 51.83L1813.51 51.49L1813.70 51.05L1814.11 50.58L1814.55 50.16L1814.81 49.82L1814.78 49.55L1814.76 49.27L1814.75 49.00L1814.76 48.73L1814.78 48.45L1814.81 48.18L1814.55 47.84L1814.11 47.42L1813.70 46.95L1813.51 46.51L1813.65 46.17L1813.81 45.84L1813.98 45.52L1814.17 45.21L1814.38 44.91L1814.60 44.63L1815.08 44.57L1815.69 44.69L1816.27 44.86L1816.70 44.92L1816.91 44.75L1817.14 44.60L1817.38 44.45L1817.62 44.32L1817.86 44.20L1818.12 44.10L1818.28 43.70L1818.42 43.11L1818.62 42.52L1818.91 42.14L1819.27 42.09L1819.64 42.06Z" stroke="#6d717c" stroke-linejoin="round"/>
<circle cx="1820" cy="49" r="2.700" stroke="#6d717c"/>
<path d="M1840.500 43.500h11.500a1.200 1.200 0 0 1 1.200 1.200v7.300a1.200 1.200 0 0 1-1.200 1.200h-4.300l-1.700 1.600l-1.700-1.600h-3.800a1.200 1.200 0 0 1-1.200-1.200v-7.300a1.200 1.200 0 0 1 1.200-1.200z" stroke="#6d717c"/>
<path d="M1843 48.100h1.300M1845.600 48.100h1.300M1848.200 48.100h1.300" stroke="#6d717c" stroke-linecap="butt"/>
<path d="M1872.100 43.300v1.600M1872.100 48.200v1.600M1872.100 53.200v1.600" stroke-width="1.800" stroke-linecap="butt" stroke="#5a5e69"/>
<path d="M1891.300 51.500l6.800-6.200l6.900 6.200" stroke="#5a5e69"/>
<!-- hand / select -->
<path d="M25.500 82v-4.800a1 1 0 0 1 2 0v3.800M27.500 80.500v-5a1 1 0 0 1 2 0v5M29.500 80.500v-4.400a1 1 0 0 1 2 0v4.900M31.500 81v-2.800a1 1 0 0 1 2 0v5.800c0 3-2 4.700-4.700 4.700c-2.400 0-3.500-1-4.500-2.500l-2-3.600a1 1 0 0 1 1.700-1l1.500 2" stroke-width="1.100"/>
<path d="M23.600 100.600v12.900l3.500-3l2.300 5l1.900-0.900l-2.300-4.900l4.700-0.400z" stroke-width="1.100"/>
<!-- PDF to Office -->
<path d="M126.500 79h11.400l3.800 3.800v13.400h-15.200zM137.900 79.300v3.500h3.500M130 86.800l1.400 5.700l2.600-4.300l2.600 4.300l1.400-5.700"/>
<path d="M122.500 81v-6.300a1.500 1.500 0 0 1 1.500-1.500h4.300l2.700 2.700v2.600" stroke="#6d717c"/>
<path d="M123.800 84h-2.800a2.400 2.400 0 0 0 0 4.800h1.500M118.600 90.500v2.700h6.200M122.800 91l2.300 2.200l-2.300 2.200" stroke="#6d717c"/>
<!-- PDF to image -->
<path d="M206.500 80v-3a1.500 1.500 0 0 1 1.500-1.500h14a1.500 1.500 0 0 1 1.500 1.500v15a1.500 1.500 0 0 1-1.500 1.500h-14a1.500 1.500 0 0 1-1.500-1.500v-6.500M204 82.600h6.500M208.500 80.400l2.200 2.200l-2.200 2.200M206.700 89.500l3.300-2.700l4 3l4.200-3.600l5.300 4"/>
<circle cx="218.500" cy="81.500" r="2"/>
<!-- split merge -->
<rect x="284" y="80.500" width="8.500" height="11" fill="#dfe0e4" stroke="none"/>
<path d="M277.500 74.500h11l4 4v13.400h-15zM283.600 80h11l4.100 4.100v11.500h-15.100z"/>
<!-- play -->
<circle cx="351" cy="85" r="10.500"/>
<path d="M348.500 80.800v8.500l7-4.250z" fill="#e4e5e8"/>
<!-- read mode -->
<path d="M391.500 75.500h11v18.300h-11zM402.500 75.500h11v18.300h-11zM400.700 93.900l1.800 1.600l1.800-1.600"/>
<!-- zoom -->
<path d="M505.400 80.400l3.500 3.800l3.600-3.800" stroke="#8b8e97"/>
<circle cx="534.700" cy="80.700" r="6.400"/><path d="M539.300 85.300l4.500 4.300M532.200 80.700h5"/>
<circle cx="559.500" cy="80.700" r="6.400"/><path d="M564.100 85.300l4.500 4.300M557 80.700h5M559.500 78.200v5"/>
<rect x="447.500" y="102.500" width="14.300" height="12" stroke-width="1.300"/>
<path d="M473.600 104.300v-3h3M484 101.300h2.900v3M486.900 112.500v3h-2.900M476.600 115.500h-3v-3M475.600 103.800h6.500l2.600 2.600v7h-9.100z"/>
<path d="M498.500 110.500v-9h9.500l2.800 2.800v6.200M497.500 113.300h14.200M499.500 111.300l-2 2l2 2M509.700 111.300l2 2l-2 2"/>
<path d="M534.42 102.27A7 7 0 0 0 523.40 108.00"/><path d="M523.40 108.00A7 7 0 1 0 534.42 102.27" stroke-dasharray="2.6 2.9" stroke-dashoffset="-2.2"/>
<path d="M521 108.800l2.400 2.700l2.500-2.700"/>
<path d="M550.73 102.27A7 7 0 0 1 561.75 108.00"/><path d="M561.75 108.00A7 7 0 1 1 550.73 102.27" stroke-dasharray="2.6 2.9" stroke-dashoffset="-2.2"/>
<path d="M559.300 108.800l2.500 2.700l2.400-2.700"/>
<!-- rotate doc -->
<path d="M598.500 93.300h-3a1.500 1.500 0 0 1-1.500-1.500v-14a1.500 1.500 0 0 1 1.500-1.500h9.500l2.500 2.500" stroke="#6d717c"/>
<path d="M600 83.300h11.300l4.200 4.200v7.500a1.500 1.500 0 0 1-1.500 1.500h-14a1.500 1.500 0 0 1-1.500-1.500v-10.200a1.500 1.500 0 0 1 1.500-1.500z"/>
<path d="M609 76.300q1.500-2.300 4-2.300M611.500 72.300l2 1.700l-2 1.700M615.700 75v6.500M613.700 79.800l2 2l2-2"/>
<!-- page nav -->
<path d="M661 76.400l-5.800 5.900l5.800 5.900M821.900 76.400l5.800 5.900l-5.800 5.900" stroke-width="1.300"/>
<path d="M651.800 100.600h8l3.700 3.700v10.800h-11.700zM654.600 107.600h6M654.600 110.400h4"/>
<path d="M704 115.200v-12.300l2-1.800h4.300v14.100zM712.600 115.200v-14.100h4.300l2 1.800v12.300zM706.500 107h1.500M706.500 110h1.500M714.800 107h1.500M714.800 110h1.500"/>
<path d="M766.300 101v5h13.200v-5M766.300 116v-6.300h13.200v6.300" stroke-width="1.300"/>
<!-- auto scroll -->
<rect x="864.500" y="74.500" width="12.300" height="21"/>
<path d="M868.100 79l2.500-2.200l2.500 2.200M867.800 83.500h5.800M867.800 86.400h5.800M868.100 91l2.500 2.200l2.500-2.200M881.500 75.500v19M879.300 77.500l2.200-2.200l2.200 2.200M879.300 92.500l2.200 2.200l2.200-2.200"/>
<!-- background eye -->
<path d="M929.300 87.400q5.500-7.200 11.100-7.200q5.600 0 11.100 7.200q-5.500 7.200-11.100 7.200q-5.600 0-11.100-7.200zM940.400 73.300v3M929.400 77.600l2.400 2.300M951.500 77.600l-2.400 2.300"/>
<circle cx="940.400" cy="87.400" r="4.300" fill="#e4e5e8"/>
<!-- translate icons -->
<path d="M981.500 75.500q4.500 0 5.500 4.500M985.200 78.800l1.900 1.600l1.300-2.100M978.500 88.500q-4.500 0-5.500-4.500M976 85.500l2.700 3l-3 1.700" stroke-width="1.100"/>
<path d="M980.500 85.200h6.500v3.300h-6.500zM983.700 83.300v7" stroke-width="1.100"/>
<path d="M979.400 100.300l-6.800 1.600v11.700l6.800 2.200zM979.400 102.300h8.400v11.200h-8.400M981.600 106h4.300v3.200h-4.300zM983.750 104.300v6.700" stroke-width="1.100"/>
<!-- compress -->
<path d="M1064.500 75.300h19M1064.500 94.500h19M1064.500 75.300q5 9.600 0 19.200M1083.500 75.300q-5 9.600 0 19.200M1063 79.500q2.300 5.400 0 10.800M1085 79.500q-2.300 5.400 0 10.800M1071 79.700h5.500M1071 82.300h4"/>
<!-- screenshot compare -->
<path d="M1121 92.500v-17h8.600v17z" fill="#e4e5e8" stroke="none"/>
<path d="M1118.300 78v-3h3M1138.700 75h3v3M1141.700 91.800v3h-3M1121.300 94.800h-3v-3M1120.800 77.700h17.800v14.800h-17.800zM1129.600 74v21.800M1121 87l5.300-4.800l10.500 10"/>
<circle cx="1135" cy="82" r="1.600"/>
<!-- read aloud -->
<path d="M1174.400 95.500l8.100-19l8.100 19M1177.400 88.300h10.200M1188.500 80.500q1.300 1.800 0 3.800M1191 78.200q2.600 4.200 0 8.400M1193.700 75.800q4.100 6.600 0 13.200"/>
<!-- find replace -->
<circle cx="1234" cy="83" r="8.700" fill="#e4e5e8"/>
<path d="M1240.400 89.500l6 6"/>
</g>
<g fill="#7c8190">
<path d="M163.300 107.200h5l-2.500 2.900z"/><path d="M311.200 107.200h5l-2.500 2.900z"/><path d="M751.200 107.200h5l-2.500 2.900z"/>
<path d="M897 107.200h5l-2.500 2.900z"/><path d="M952 107.200h5l-2.500 2.900z"/><path d="M1043.800 80.800h5l-2.500 2.900z"/>
<circle cx="1703.200" cy="53.700" r="3.300" fill="#8d95b3"/>
</g>
<path d="M1701.600 53.700h3.200" stroke="#fff" stroke-width="1.100"/>
<g font-family="'Liberation Sans',sans-serif" fill="#3b404c">
<text x="450.100" y="111.600" font-size="8.500" letter-spacing="-0.300" stroke="#3b404c" stroke-width="0.250">1:1</text>
<text x="973.300" y="82" font-size="11" stroke="#3b404c" stroke-width="0.200">a</text>
<text x="974" y="110.600" font-size="7.500">a</text>
</g>
</svg>
<div id="status" class="abs"></div>
<div class="sel" style="left:1405px;top:1014px;width:24px;height:24px;background:#dfe1e6"></div>
<div class="sel" style="left:1450px;top:1014px;width:24px;height:24px;background:#dfe1e6"></div>
<div class="sel" style="left:1618px;top:1014px;width:24px;height:24px;background:#dfe1e6"></div>
<div class="t" style="left:34.500px;top:1018.600px">导航</div>
<div class="sep" style="left:72px;top:1020px;height:13px;background:#d9dade"></div>
<div class="sep" style="left:319px;top:1020px;height:13px;background:#d9dade"></div>
<div class="sep" style="left:1394px;top:1020px;height:13px;background:#d9dade"></div>
<div class="sep" style="left:1510px;top:1020px;height:13px;background:#d9dade"></div>
<div class="sep" style="left:1439px;top:1020px;height:13px;background:#d9dade"></div>
<div class="sep" style="left:1555px;top:1020px;height:13px;background:#d9dade"></div>
<div class="abs" style="left:141px;top:1015px;width:110px;height:21px;border:1px solid #dcdde1;border-radius:3px;background:#fff"></div>
<div class="t" style="left:141px;top:1018.700px;width:110px;text-align:center;font-size:16px;letter-spacing:-0.400px">7/12</div>
<div class="t" style="left:1644px;top:1018px;color:#2a2d34">227%</div>
<!-- network widget -->
<div class="abs" style="left:1830px;top:966px;width:75px;height:41.500px;border-radius:0 21px 21px 0;background:#2f323d;box-shadow:0 0 2px rgba(0,0,0,.35)"></div>
<div class="abs" style="left:1845px;top:986.500px;width:56px;height:1px;background:#3b3e4a"></div>
<div class="abs" style="left:1786.200px;top:956.800px;width:59px;height:59px;border-radius:50%;background:radial-gradient(circle at 50% 45%,#5f6270 0%,#555865 55%,#464954 100%);box-shadow:0 0 3px rgba(0,0,0,.45)"></div>
<div class="t" style="left:1798px;top:972px;font-size:26px;line-height:28px;height:28px;color:#f3f3f5;letter-spacing:-0.500px;font-weight:normal;-webkit-text-stroke:0.600px #5a5d6a">67</div>
<div class="t" style="left:1826.500px;top:987px;font-size:9px;line-height:10px;height:10px;color:#f3f3f5;-webkit-text-stroke:0">%</div>
<div class="t" style="left:1865.500px;top:970px;font-size:11.500px;line-height:14px;height:14px;color:#f1f1f1;-webkit-text-stroke:0">1.3<span style="color:#a9acb5;font-size:10px">K/s</span></div>
<div class="t" style="left:1865px;top:991.200px;font-size:11.500px;line-height:14px;height:14px;color:#f1f1f1;-webkit-text-stroke:0">0.1<span style="color:#a9acb5;font-size:10px">K/s</span></div>
<!-- IME panel -->
<div class="abs" style="left:1804px;top:1008px;width:116px;height:32px;background:#f0f1f3"></div>
<div class="t" style="left:1827px;top:1013.500px;font-size:18.500px;line-height:22px;height:22px;color:#111;-webkit-text-stroke:0.300px #111">中</div>
<div id="taskbar" class="abs"></div>
<div class="abs" style="left:48px;top:1041px;width:344px;height:39px;background:#f3f3f3"></div>
<div class="t" style="left:88px;top:1051px;font-size:14px;line-height:20px;height:20px;color:#2b2b2b">在这里输入你要搜索的内容</div>
<div class="abs" style="left:1179px;top:1040px;width:48px;height:40px;background:#484848"></div>
<div class="t" style="left:1562.500px;top:1051px;font-size:14.500px;line-height:20px;height:20px;color:#f5f5f5">12°C</div>
<div class="t" style="left:1602px;top:1051px;font-size:14.500px;line-height:20px;height:20px;color:#f5f5f5">空气优 20</div>
<div class="t" style="left:1776.500px;top:1050.500px;font-size:14px;line-height:20px;height:20px;color:#fff;font-weight:bold">中</div>
<div class="t" style="left:1790px;top:1043px;width:81px;text-align:center;color:#fff;font-size:12px">14:39</div>
<div class="t" style="left:1790px;top:1062px;width:81px;text-align:center;color:#fff;font-size:12px;letter-spacing:0.600px">2021/10/19</div>
<svg id="boticons" width="1920" height="130" viewBox="0 950 1920 130" style="left:0;top:950px">
<g class="ic">
<!-- status bar left -->
<path d="M15.700 1019.800h13v12.700h-13zM20.300 1021.900v8.500" stroke="#2f3547"/>
<path d="M91.300 1020.300v11.600M100.300 1020.500l-5.800 5.800l5.800 5.800M122.300 1020.500l-5.800 5.800l5.800 5.800M270 1020.500l5.800 5.800l-5.800 5.800M292.500 1020.500l5.800 5.800l-5.800 5.800M301.500 1020.500v11.500" stroke-width="1.300"/>
<g stroke="#b4b7bf"><rect x="335.500" y="1019.800" width="13" height="13.500"/><rect x="359.500" y="1019.800" width="13" height="13.500"/><path d="M345 1026.500h-6M341 1024.500l-2 2l2 2M363 1026.500h6M367 1024.500l2 2l-2 2"/></g>
<!-- status bar right -->
<path d="M1355 1027.500q3.700-4.800 7.500-4.800q3.800 0 7.500 4.800q-3.700 4.800-7.500 4.800q-3.800 0-7.500-4.800zM1362.500 1018.500v2M1355.500 1020.800l1.500 1.500M1369.500 1020.800l-1.500 1.500"/>
<circle cx="1362.500" cy="1027.500" r="2.600"/>
<path d="M1410.500 1019v5h13.500v-5M1410.500 1034v-6.300h13.500v6.300" stroke-width="1.300"/>
<path d="M1456.500 1018.500h8l3.700 3.700v11h-11.700zM1459.300 1025.500h6M1459.300 1028.300h4"/>
<path d="M1480.500 1033.200v-12.300l2-1.800h4.300v14.100zM1489.500 1033.200v-14.100h4.300l2 1.800v12.300zM1483 1025h1.500M1483 1028h1.500M1491.700 1025h1.500M1491.700 1028h1.500"/>
<circle cx="1533" cy="1026.300" r="7.800"/><path d="M1531.200 1023v6.600l5.200-3.300z"/>
<rect x="1570.500" y="1020.300" width="14.300" height="12" stroke-width="1.300"/>
<path d="M1597.300 1022.300v-3h3M1607.700 1019.300h2.900v3M1610.600 1030.500v3h-2.900M1600.300 1033.500h-3v-3M1599.300 1021.800h6.500l2.600 2.600v7h-9.100z"/>
<path d="M1623.500 1028.500v-9h9.500l2.800 2.800v6.200M1622.500 1031.300h14.200M1624.500 1029.300l-2 2l2 2M1634.700 1029.300l2 2l-2 2"/>
<path d="M1697 1026h10" stroke="#2b3350" stroke-width="2.400" stroke-linecap="butt"/>
<path d="M1719 1026.500h74M1787.500 1023v7" stroke="#4a5170" stroke-width="1"/>
<circle cx="1797.800" cy="1026.200" r="5.700" fill="#f6f7f9" stroke="#6d717c" stroke-width="1"/>
<!-- left panel dots -->
<g stroke="#3a4363" stroke-width="1.300"><circle cx="16" cy="992.900" r="1.500"/><circle cx="22" cy="992.900" r="1.500"/><circle cx="28" cy="992.900" r="1.500"/></g>
</g>
<g fill="#7c8190"><path d="M1375 1025h5l-2.500 2.900z"/><path d="M1680 1025h5l-2.500 2.900z"/><path d="M1909.500 1000h6l-3 3.500z" fill="#8a92b5"/></g>
<text x="1573.100" y="1029.400" font-size="8.500" stroke="#3b404c" stroke-width="0.250" letter-spacing="-0.300" font-family="'Liberation Sans',sans-serif" fill="#3b404c">1:1</text>
<!-- widget ring -->
<g fill="none" stroke-width="1.500" stroke-linecap="round">
<path d="M1816.500 960.700A25.600 25.600 0 0 1 1841 981" stroke="#3fd8c8"/>
<path d="M1841 981A25.600 25.600 0 0 1 1836 1002" stroke="#5adba0"/>
<path d="M1836 1002A25.600 25.600 0 0 1 1828 1008.800" stroke="#8fdc62"/>
<path d="M1793.500 999.500A25.600 25.600 0 0 0 1803 1008.500" stroke="#f5c842"/>
</g>
<path d="M1851.500 973v6M1848.800 975.700l2.700-2.700l2.700 2.700" stroke="#3ba8f0" stroke-width="1.500" fill="none"/>
<path d="M1851.500 994v6M1848.800 997.300l2.700 2.700l2.700-2.700" stroke="#2fc04a" stroke-width="1.500" fill="none"/>
<!-- IME -->
<path d="M1810.400 1016.300v15M1813.500 1016.300v15" stroke="#a8a8a8" stroke-width="0.800"/>
<path d="M1870.500 1014.500a10 10 0 0 1-11 17.500a11.500 11.500 0 0 0 11-17.500z" fill="none" stroke="#222" stroke-width="1.200" stroke-linejoin="round"/>
<g fill="none" stroke="#222" stroke-width="1.450" transform="translate(1900 1024) scale(0.860) translate(-1900 -1024)"><circle cx="1900" cy="1024" r="3.300"/>
<path d="M1898.300 1014.500h3.400l0.600 2.600l2 0.900l2.300-1.400l2.400 2.400l-1.400 2.300l0.900 2l2.600 0.600v3.400l-2.600 0.600l-0.900 2l1.400 2.300l-2.400 2.400l-2.300-1.400l-2 0.900l-0.600 2.600h-3.400l-0.600-2.600l-2-0.900l-2.300 1.400l-2.400-2.400l1.400-2.300l-0.900-2l-2.600-0.600v-3.400l2.600-0.600l0.900-2l-1.400-2.300l2.400-2.400l2.300 1.400l2-0.900z" stroke-linejoin="round"/></g>
<!-- taskbar -->
<path d="M15.500 1053.400l7-1v7h-7zM23.500 1052.200l9-1.300v8.500h-9zM15.500 1060.400h7v7l-7-1zM23.500 1060.400h9v8.500l-9-1.300z" fill="#fff"/>
<circle cx="69.500" cy="1057.500" r="5.500" fill="none" stroke="#222" stroke-width="1.400"/><path d="M65.800 1061.500l-5.300 5.800" stroke="#222" stroke-width="1.400"/>
<!-- running indicators -->
<g fill="#76b9ed"><rect x="399" y="1078" width="40" height="2"/><rect x="840" y="1078" width="40" height="2"/><rect x="1036" y="1078" width="40" height="2"/><rect x="1085" y="1078" width="32" height="2"/><rect x="1134" y="1078" width="40" height="2"/><rect x="1179" y="1078" width="48" height="2"/></g>
<rect x="1117" y="1078" width="8" height="2" fill="#4f7fa8"/>
<!-- app icons -->
<g>
<!-- edge -->
<defs><linearGradient id="edg" x1="0" y1="1" x2="1" y2="0"><stop offset="0" stop-color="#0c59a4"/><stop offset="0.500" stop-color="#1b9de2"/><stop offset="0.850" stop-color="#3fd08a"/><stop offset="1" stop-color="#7fe04a"/></linearGradient></defs>
<circle cx="419" cy="1060" r="12" fill="url(#edg)"/>
<path d="M407.200 1062q0.500-7 8-7.500q5.500 0 6 4.500q0 2.500-2.500 2.500h-4.500q0.500 4 4.500 5q4 0.800 8.500-1.500q-3.500 7-10.500 6.800q-8.500-1-9.500-9.800z" fill="#0b4a94"/>
<path d="M414.200 1061.500q0.200-3 3.300-3q2.300 0.200 2.300 2q0 1-1.200 1z" fill="#1b1b1b"/>
<!-- sci-hub -->
<circle cx="467" cy="1060" r="11.500" fill="#9e2a2b"/><path d="M462 1053l5 4l-2 6l-4-3z" fill="#1b1b1b"/>
<text x="467" y="1063" font-size="5" fill="#eee" text-anchor="middle" font-family="'Liberation Serif',serif" font-weight="bold">SCI-HUB</text>
<!-- QQ browser -->
<circle cx="517" cy="1059.500" r="10" fill="none" stroke="#1e9bf0" stroke-width="4.500"/><path d="M514 1069q0-4 5-4q2-3 5 0q4 0 4 3.500q0 2.500-3 2.500h-9z" fill="#fff"/>
<!-- notepad -->
<path d="M558 1051l16-1.500l-3 20l-17 1z" fill="#a9d5e0"/><path d="M558 1051l16-1.500l-1 4l-16 1.500z" fill="#d8edf3"/><path d="M571 1069.500l3-20l2 1l-3 20z" fill="#c9a24a"/>
<!-- QQ penguin -->
<ellipse cx="614.500" cy="1062" rx="8.500" ry="9.500" fill="#111"/><ellipse cx="614.500" cy="1064" rx="5.500" ry="6" fill="#fff"/><circle cx="614.500" cy="1054.500" r="6" fill="#111"/><ellipse cx="612.500" cy="1053.500" rx="1.300" ry="2" fill="#fff"/><ellipse cx="616.500" cy="1053.500" rx="1.300" ry="2" fill="#fff"/><ellipse cx="614.500" cy="1057.300" rx="3.200" ry="1.200" fill="#f7b500"/><path d="M607.500 1058.500q7 3 14 0l0.500 3q-7.500 3-15 0z" fill="#e81c24"/><path d="M609.500 1061h3v5h-3z" fill="#e81c24"/><ellipse cx="610.500" cy="1071.500" rx="3.500" ry="1.500" fill="#f7b500"/><ellipse cx="618.500" cy="1071.500" rx="3.500" ry="1.500" fill="#f7b500"/>
<!-- store -->
<path d="M652 1054.500h23.500v17h-23.500z" fill="#f2f2f2"/><path d="M658.500 1054.500v-3.500q0-2 2-2h6.500q2 0 2 2v3.500" fill="none" stroke="#f2f2f2" stroke-width="1.600"/><rect x="659" y="1059" width="4.200" height="4.200" fill="#f25022"/><rect x="664.300" y="1059" width="4.200" height="4.200" fill="#7fba00"/><rect x="659" y="1064.300" width="4.200" height="4.200" fill="#00a4ef"/><rect x="664.300" y="1064.300" width="4.200" height="4.200" fill="#ffb900"/>
<!-- chrome -->
<circle cx="713" cy="1060" r="11.500" fill="#db4437"/><path d="M713 1060l-10-5.700a11.500 11.500 0 0 0 4.500 15.700z" fill="#0f9d58"/><path d="M713 1060l-5.500 10a11.500 11.500 0 0 0 17-10z" fill="#ffcd40"/><path d="M703 1054.300a11.500 11.500 0 0 1 20.800 1.700h-10.800z" fill="#db4437"/><path d="M707.500 1070a11.500 11.500 0 0 1-4.500-15.700l5.500 9.500z" fill="#0f9d58"/><circle cx="713" cy="1060" r="5.300" fill="#f1f1f1"/><circle cx="713" cy="1060" r="4.200" fill="#4285f4"/>
<!-- vnc -->
<rect x="750" y="1048" width="24" height="24" rx="2.500" fill="#1e88e5"/>
<text x="753" y="1066" font-size="16.500" fill="#fff" font-family="'Liberation Sans',sans-serif">V</text>
<text x="763.700" y="1059.800" font-size="10.500" fill="#fff" font-family="'Liberation Sans',sans-serif">n</text>
<text x="764" y="1067.500" font-size="10.500" fill="#fff" font-family="'Liberation Sans',sans-serif">c</text>
<!-- chrome e -->
<circle cx="810.800" cy="1060" r="11.800" fill="#db4437"/><path d="M810.800 1060l-10.300-5.800a11.800 11.800 0 0 0 4.600 16z" fill="#0f9d58"/><path d="M810.800 1060l-5.700 10.200a11.800 11.800 0 0 0 17.500-10.200z" fill="#ffcd40"/><path d="M800.500 1054.200a11.800 11.800 0 0 1 21.500 1.800h-11.200z" fill="#db4437"/><circle cx="810.800" cy="1060" r="6.800" fill="#f5f5f5"/>
<text x="810.800" y="1064" font-size="12" fill="#2a8de0" text-anchor="middle" font-family="'Liberation Sans',sans-serif" font-weight="bold">e</text>
<!-- explorer -->
<path d="M849.500 1052h7l2 2h12v14.500h-21z" fill="#f5c542"/><path d="M849.500 1056.500h21v12h-21z" fill="#fbd968"/><path d="M853.500 1063h13v7h-3v-3h-7v3h-3z" fill="#3a96dd"/>
<!-- purple app -->
<rect x="898" y="1051" width="21" height="18.500" fill="#c58fd0" stroke="#9b4db0" stroke-width="1"/><rect x="898" y="1051" width="21" height="3.500" fill="#b06cc0"/><rect x="901" y="1057" width="10" height="9.500" fill="none" stroke="#7d3a92" stroke-width="1"/><path d="M903 1060h6M903 1063h6M914 1057v9.500" stroke="#7d3a92" stroke-width="1"/>
<!-- blue app -->
<rect x="946.500" y="1049" width="22" height="22" rx="3" fill="#1677ff"/><path d="M950 1064l4.500-6.500l3.500 3.500l3-4.500l4.500 7.500z" fill="#fff"/>
<!-- flower -->
<circle cx="1000.500" cy="1054.500" r="4.500" fill="#f3eee6"/><circle cx="1000.500" cy="1054.500" r="1.700" fill="#e2b93b"/><path d="M1006 1052q6 0 7 6q-2 7-7 8q-3-7 0-14z" fill="#7c8a63"/><path d="M1003 1062h9l-1.500 6h-7z" fill="#6b4a2a"/><path d="M1000 1070q6-4 12 0q-6 2-12 0z" fill="#3f7a33"/>
<!-- wechat -->
<ellipse cx="1053" cy="1057" rx="9.500" ry="8" fill="#2dc100"/><path d="M1047.500 1063.500l-1.500 4l4.500-2.500z" fill="#2dc100"/><ellipse cx="1061" cy="1064" rx="7.500" ry="6.300" fill="#f2f2f2"/><path d="M1065 1069l1.500 3l-4-2z" fill="#f2f2f2"/><circle cx="1050" cy="1055" r="1" fill="#1b7a00"/><circle cx="1056" cy="1055" r="1" fill="#1b7a00"/><circle cx="1058.500" cy="1062.500" r="0.900" fill="#999"/><circle cx="1063.500" cy="1062.500" r="0.900" fill="#999"/>
<!-- word -->
<rect x="1100" y="1049" width="17" height="22" rx="1" fill="#2b7cd3"/><rect x="1100" y="1049" width="17" height="5.500" fill="#41a5ee"/><rect x="1100" y="1060" width="17" height="5.500" fill="#185abd"/><rect x="1100" y="1065.500" width="17" height="5.500" fill="#103f91"/><rect x="1093" y="1054" width="13" height="13" rx="1" fill="#185abd"/>
<text x="1099.500" y="1064.500" font-size="10.500" fill="#fff" text-anchor="middle" font-family="'Liberation Sans',sans-serif" font-weight="bold">W</text>
<!-- red G -->
<path d="M1163 1050.200l-4 3.600h-8.500l-5 6.500l2.800 7.800h10.800l2.800-7.300h-7.500" fill="none" stroke="#e02a1c" stroke-width="3.300" stroke-linejoin="miter"/>
<!-- wps -->
<path d="M1191.200 1051.200h13l-1.500 3.800h-5.800l3.300 8.500l-1.700 5.300h-1.600z" fill="#f5261c"/>
<path d="M1205.300 1051.200h4.300l-7 17.700h-3.300l1.300-4z" fill="#ff5a16"/>
<path d="M1209.900 1051.200h5.700q0.700 3-0.500 6l-2 5.500h-6.500l2.500-6.500z" fill="#f5261c"/>
<rect x="1206.200" y="1062.900" width="8" height="8" rx="1" fill="#ea6b6d"/>
<path d="M1208.300 1065.300h2.600a1.200 1.200 0 0 1 0 2.400h-1.300a1 1 0 0 0 0 2h2.600" stroke="#fff" stroke-width="0.900" fill="none"/>
</g>
<!-- tray -->
<circle cx="1542" cy="1060" r="9.300" fill="#fbb724"/><circle cx="1540.500" cy="1058" r="6.500" fill="#fdd447" opacity="0.900"/>
<path d="M1682.500 1062.500l5.500-5.500l5.500 5.500" fill="none" stroke="#fff" stroke-width="1.300"/>
<rect x="1706.500" y="1053" width="10" height="6" fill="#d7ecf7"/><rect x="1708" y="1054.500" width="2.500" height="2.500" fill="#4a6c85"/><rect x="1712.500" y="1054.500" width="2.500" height="2.500" fill="#4a6c85"/><rect x="1705" y="1058" width="13" height="9.500" rx="2" fill="#3a96dd"/><path d="M1711.500 1060v5.500M1709.500 1062l2 2l2-2" stroke="#1c5f97" stroke-width="1" fill="none"/>
<ellipse cx="1735" cy="1061" rx="6" ry="7" fill="#111"/><ellipse cx="1735" cy="1062.500" rx="3.800" ry="4.500" fill="#fff"/><circle cx="1735" cy="1055.500" r="4.300" fill="#111"/><ellipse cx="1735" cy="1057.600" rx="2.300" ry="0.900" fill="#f7b500"/><circle cx="1733.700" cy="1054.800" r="0.900" fill="#fff"/><circle cx="1736.300" cy="1054.800" r="0.900" fill="#fff"/><path d="M1730 1058.500q5 2.200 10 0l0.300 2q-5.300 2.200-10.600 0z" fill="#e81c24"/><circle cx="1739.800" cy="1063.800" r="4.200" fill="#f5923e"/><path d="M1737.800 1062.800h4M1737.800 1064.800h4" stroke="#fff" stroke-width="1"/>
<path d="M1760 1052.500q3.500 2 8 2q0 10-8 13.500q-8-3.500-8-13.500q4.500 0 8-2z" fill="#2a7bf5"/><path d="M1755 1058.500l5 4l5-4" stroke="#fff" stroke-width="1.500" fill="none"/><path d="M1756 1062.500q4 4 8 0" stroke="#fff" stroke-width="1.200" fill="none"/>
<path d="M1879.500 1052.500h15.500v11.500h-5.500l-2.300 2.500l-2.300-2.500h-5.400z" fill="none" stroke="#fff" stroke-width="1.200"/>
<path d="M1915.500 1040v40" stroke="#6a6a6a" stroke-width="1"/>
</svg>

</body>
</html>
